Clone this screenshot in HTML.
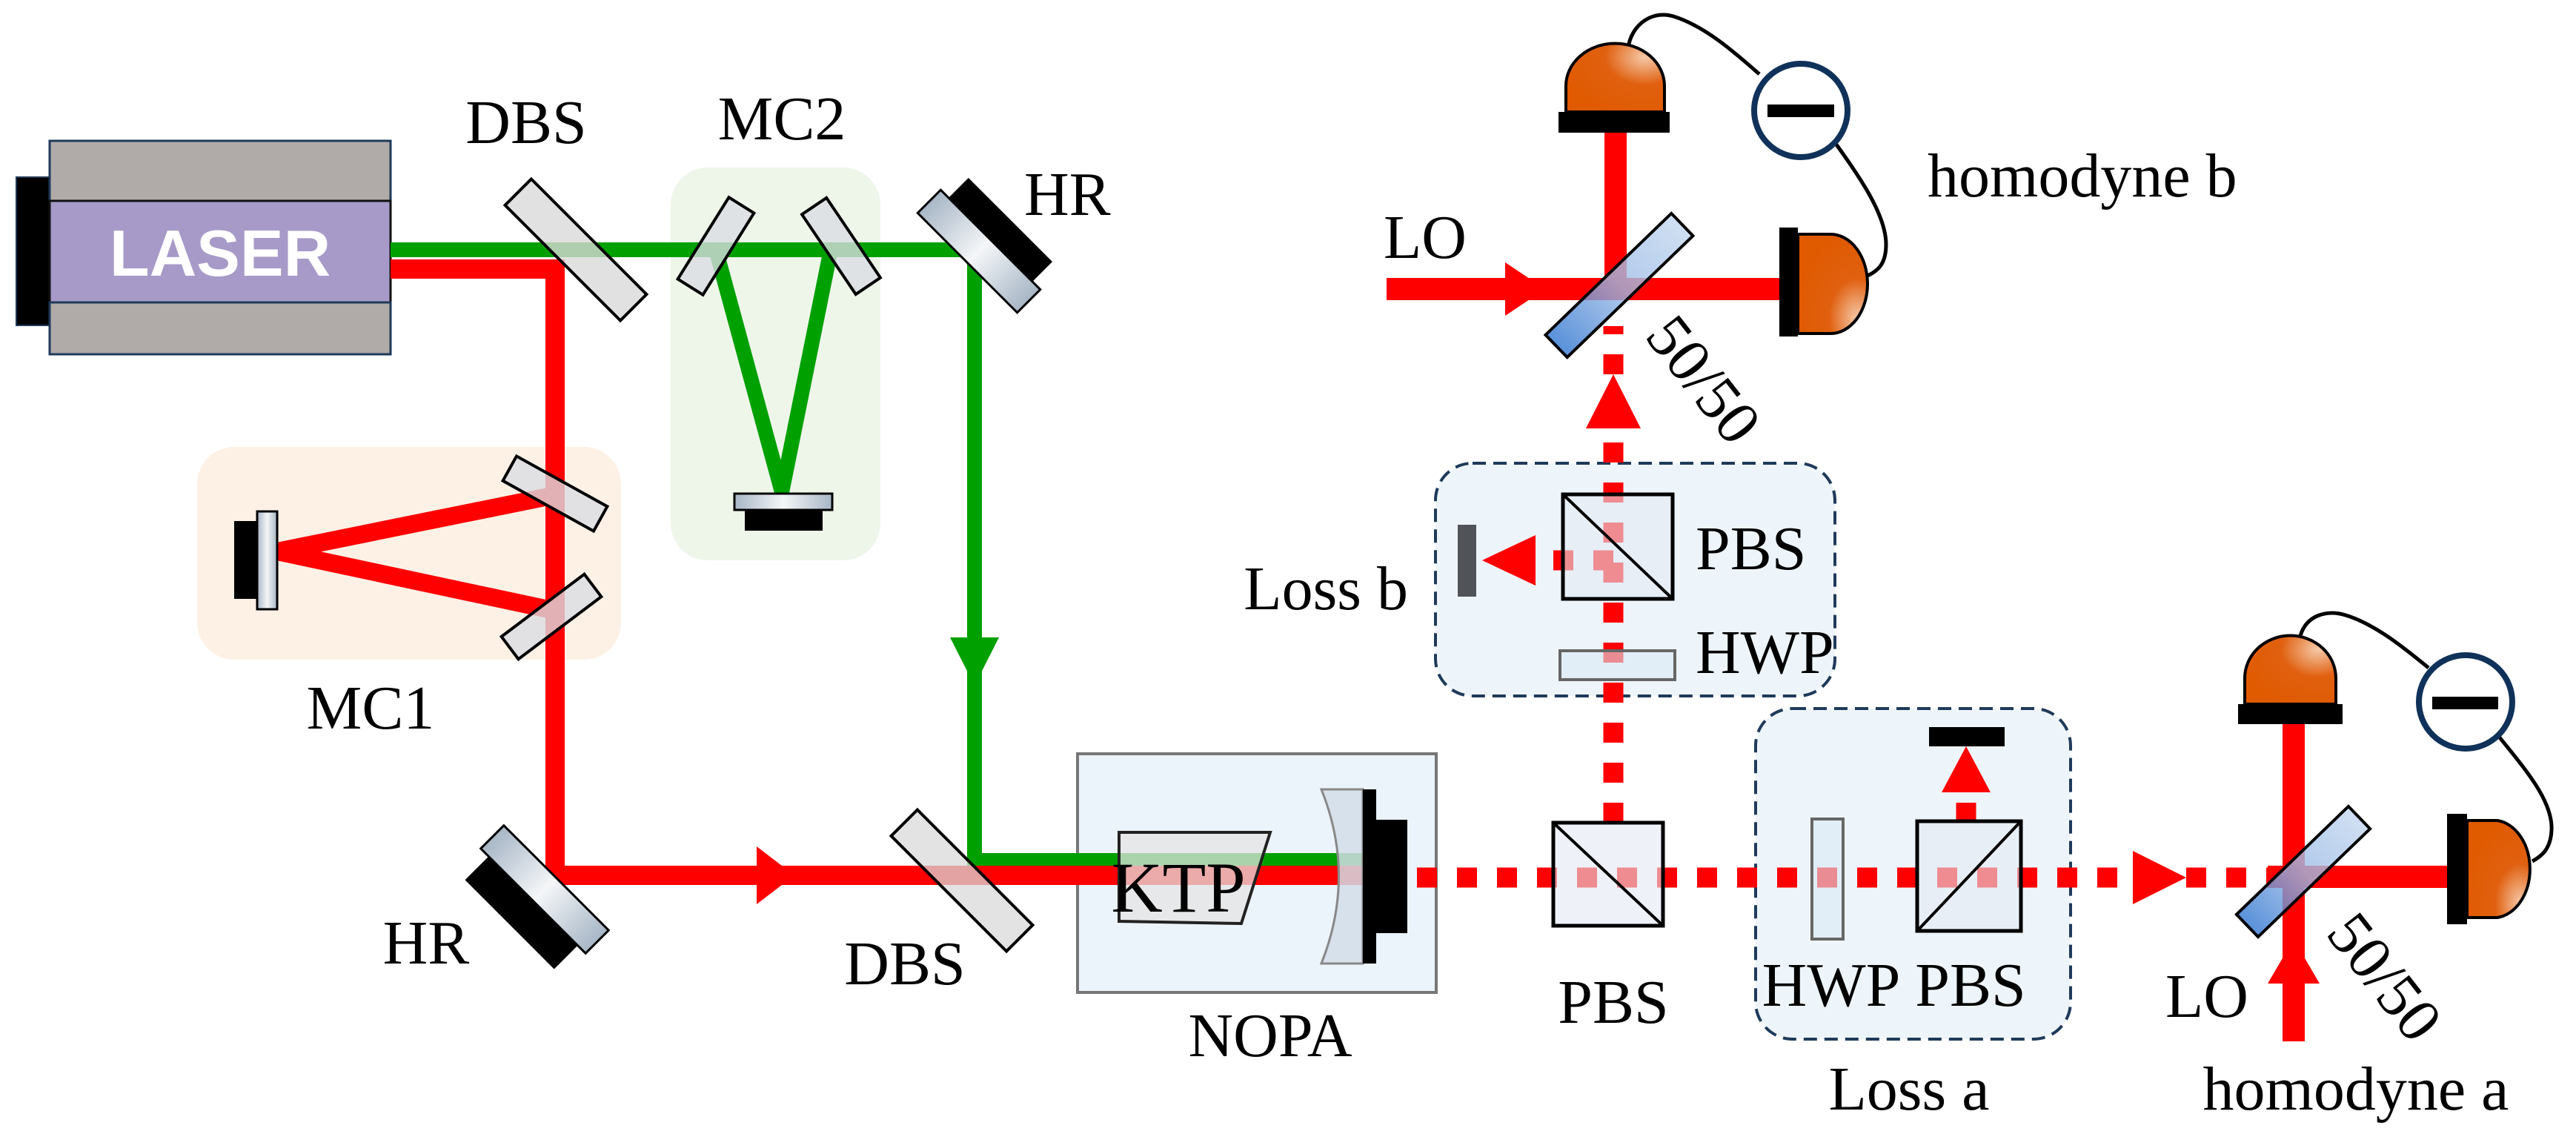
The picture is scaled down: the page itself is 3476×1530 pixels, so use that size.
<!DOCTYPE html>
<html><head><meta charset="utf-8"><style>
html,body{margin:0;padding:0;background:#fff}
svg{display:block}
text{font-family:"Liberation Serif",serif;fill:#000}
</style></head><body>
<svg width="3476" height="1530" viewBox="0 0 3476 1530" xmlns="http://www.w3.org/2000/svg">
<defs>
<linearGradient id="hr" x1="0" y1="0" x2="1" y2="0">
<stop offset="0" stop-color="#a7b6c6"/><stop offset="0.5" stop-color="#f4f6f8"/><stop offset="1" stop-color="#a7b6c6"/></linearGradient>
<linearGradient id="bs" x1="0" y1="0" x2="1" y2="0">
<stop offset="0" stop-color="#2f75d0"/><stop offset="0.5" stop-color="#9dbce6"/><stop offset="1" stop-color="#c4d7ef"/></linearGradient>
<radialGradient id="det" cx="0.8" cy="0.2" r="0.9">
<stop offset="0" stop-color="#f6c9a8"/><stop offset="0.45" stop-color="#e06010"/><stop offset="1" stop-color="#e05a00"/></radialGradient>
<radialGradient id="det2" cx="0.85" cy="0.85" r="0.9">
<stop offset="0" stop-color="#f6c9a8"/><stop offset="0.45" stop-color="#e06010"/><stop offset="1" stop-color="#e05a00"/></radialGradient>
</defs>

<rect x="905" y="226" width="283" height="530" rx="50" fill="#eef6ea"/>
<rect x="266" y="603" width="572" height="287" rx="50" fill="#fdf1e6"/>
<rect x="1454" y="1017" width="484" height="322" fill="#ebf3fb" stroke="#777" stroke-width="4"/>
<rect x="1937" y="625" width="539" height="314" rx="50" fill="#eef5fa" stroke="#1f3a5a" stroke-width="4" stroke-dasharray="18 10"/>
<rect x="2369" y="956" width="425" height="446" rx="50" fill="#eef5fa" stroke="#1f3a5a" stroke-width="4" stroke-dasharray="18 10"/>

<rect x="22" y="239" width="45" height="200" fill="#000" stroke="#1f3a5a" stroke-width="2"/>
<rect x="67" y="190" width="460" height="81" fill="#b0aaa8" stroke="#1f3a5a" stroke-width="3"/>
<rect x="67" y="271" width="460" height="137" fill="#a79ac8" stroke="#111" stroke-width="3"/>
<rect x="67" y="408" width="460" height="70" fill="#b0aaa8" stroke="#1f3a5a" stroke-width="3"/>
<text x="297" y="372" text-anchor="middle" font-size="88" font-weight="bold" style="font-family:'Liberation Sans',sans-serif;fill:#fff">LASER</text>

<polyline points="527,337 1315,337 1315,1161 1840,1161" fill="none" stroke="#00a000" stroke-width="20"/>
<polyline points="966,337 1055,664 1121,337" fill="none" stroke="#00a000" stroke-width="20"/>
<polygon points="1282,860 1348,860 1315,925" fill="#00a000"/>

<polyline points="527,363 749,363 749,1181 1840,1181" fill="none" stroke="#ff0000" stroke-width="26"/>
<polyline points="740,670 374,744 740,822" fill="none" stroke="#ff0000" stroke-width="24"/>
<polygon points="1021,1142 1072,1181 1021,1220" fill="#ff0000"/>

<line x1="1912" y1="1184" x2="2890" y2="1184" stroke="#ff0000" stroke-width="27" stroke-dasharray="27 27"/>
<polygon points="2878,1148 2950,1184 2878,1220" fill="#ff0000"/>
<line x1="2950" y1="1184" x2="3060" y2="1184" stroke="#ff0000" stroke-width="27" stroke-dasharray="27 27"/>
<line x1="2177" y1="1110" x2="2177" y2="570" stroke="#ff0000" stroke-width="27" stroke-dasharray="27 27"/>
<polygon points="2140,578 2177,505 2214,578" fill="#ff0000"/>
<line x1="2177" y1="505" x2="2177" y2="440" stroke="#ff0000" stroke-width="27" stroke-dasharray="27 27"/>
<line x1="2177" y1="756" x2="2072" y2="756" stroke="#ff0000" stroke-width="27" stroke-dasharray="27 27"/>
<polygon points="2072,722 2000,756 2072,790" fill="#ff0000"/>
<line x1="2653" y1="1110" x2="2653" y2="1069" stroke="#ff0000" stroke-width="27" stroke-dasharray="27 14"/>
<polygon points="2620,1069 2653,1007 2686,1069" fill="#ff0000"/>

<line x1="3060" y1="1183" x2="3320" y2="1183" stroke="#ff0000" stroke-width="30"/>
<line x1="3095" y1="1405" x2="3095" y2="970" stroke="#ff0000" stroke-width="30"/>
<polygon points="3060,1327 3095,1267 3130,1327" fill="#ff0000"/>
<line x1="1871" y1="390" x2="2410" y2="390" stroke="#ff0000" stroke-width="30"/>
<line x1="2180" y1="390" x2="2180" y2="170" stroke="#ff0000" stroke-width="30"/>
<polygon points="2031,354 2085,390 2031,426" fill="#ff0000"/>

<g transform="translate(777,337) rotate(45)"><rect x="-110" y="-25" width="220" height="50" fill="#d9d9d9" fill-opacity="0.8" stroke="#000" stroke-width="4"/></g>
<g transform="translate(966,332) rotate(-58)"><rect x="-65" y="-20" width="130" height="40" fill="#d9dde2" fill-opacity="0.8" stroke="#000" stroke-width="4"/></g>
<g transform="translate(1135,332) rotate(56)"><rect x="-65" y="-20" width="130" height="40" fill="#d9dde2" fill-opacity="0.8" stroke="#000" stroke-width="4"/></g>
<rect x="1005" y="688" width="105" height="28" fill="#000"/>
<rect x="991" y="666" width="132" height="22" fill="url(#hr)" stroke="#000" stroke-width="3"/>
<g transform="translate(1321,339) rotate(45)"><rect x="-80" y="-60" width="160" height="42" fill="#000"/><rect x="-95" y="-22" width="190" height="44" fill="url(#hr)" stroke="#000" stroke-width="3"/></g>
<g transform="translate(749,666) rotate(29)"><rect x="-70" y="-19" width="140" height="38" fill="#d9dde2" fill-opacity="0.8" stroke="#000" stroke-width="4"/></g>
<g transform="translate(744,832) rotate(-37)"><rect x="-70" y="-19" width="140" height="38" fill="#d9dde2" fill-opacity="0.8" stroke="#000" stroke-width="4"/></g>
<rect x="316" y="703" width="31" height="105" fill="#000"/>
<rect x="347" y="690" width="27" height="132" fill="url(#hr)" stroke="#000" stroke-width="3"/>
<g transform="translate(735,1200) rotate(45)"><rect x="-85" y="22" width="170" height="45" fill="#000"/><rect x="-100" y="-22" width="200" height="44" fill="url(#hr)" stroke="#000" stroke-width="3"/></g>
<g transform="translate(1298,1188) rotate(45)"><rect x="-110" y="-25" width="220" height="50" fill="#d9d9d9" fill-opacity="0.75" stroke="#000" stroke-width="4"/></g>

<polygon points="1510,1123 1714,1123 1675,1246 1510,1243" fill="#e4e4e4" fill-opacity="0.75" stroke="#222" stroke-width="4"/>
<text x="1590" y="1230" text-anchor="middle" font-size="96">KTP</text>
<path d="M1783,1065 L1839,1065 L1839,1300 L1783,1300 Q1830,1182 1783,1065 Z" fill="#d3dde7" fill-opacity="0.85" stroke="#888" stroke-width="3"/>
<rect x="1839" y="1065" width="18" height="235" fill="#000"/>
<rect x="1857" y="1106" width="42" height="153" fill="#000"/>

<rect x="2096" y="1110" width="148" height="139" fill="#e3e9f3" fill-opacity="0.6" stroke="#000" stroke-width="5"/>
<line x1="2096" y1="1110" x2="2244" y2="1249" stroke="#000" stroke-width="4"/>
<rect x="2109" y="667" width="148" height="141" fill="#e3e9f3" fill-opacity="0.6" stroke="#000" stroke-width="5"/>
<line x1="2109" y1="667" x2="2257" y2="808" stroke="#000" stroke-width="4"/>
<rect x="2105" y="878" width="155" height="39" fill="#dbe9f5" fill-opacity="0.6" stroke="#666" stroke-width="4"/>
<rect x="1967" y="708" width="25" height="97" fill="#505458"/>
<rect x="2445" y="1105" width="42" height="162" fill="#dbe9f5" fill-opacity="0.6" stroke="#666" stroke-width="4"/>
<rect x="2587" y="1108" width="140" height="148" fill="#e3e9f3" fill-opacity="0.6" stroke="#000" stroke-width="5"/>
<line x1="2587" y1="1256" x2="2727" y2="1108" stroke="#000" stroke-width="4"/>
<rect x="2603" y="981" width="102" height="26" fill="#000"/>

<g transform="translate(3108,1176) rotate(-44)"><rect x="-105" y="-21" width="210" height="42" fill="url(#bs)" fill-opacity="0.8" stroke="#000" stroke-width="4"/></g>
<g transform="translate(2185,385) rotate(-44)"><rect x="-118" y="-21" width="236" height="42" fill="url(#bs)" fill-opacity="0.8" stroke="#000" stroke-width="4"/></g>

<path d="M3029,950 L3029,915 A61,57 0 0 1 3152,915 L3152,950 Z" fill="url(#det)" stroke="#000" stroke-width="4"/>
<rect x="3020" y="950" width="141" height="27" fill="#000"/>
<path d="M3329,1107 L3370,1107 A50,66 0 0 1 3370,1238 L3329,1238 Z" fill="url(#det2)" stroke="#000" stroke-width="4"/>
<rect x="3302" y="1098" width="27" height="149" fill="#000"/>
<path d="M3104,858 C3112,830 3140,822 3165,830 C3205,842 3245,875 3277,901" fill="none" stroke="#000" stroke-width="5"/>
<path d="M3373,995 C3405,1035 3445,1080 3443,1120 C3442,1145 3430,1155 3417,1162" fill="none" stroke="#000" stroke-width="5"/>
<circle cx="3327" cy="947" r="63" fill="#fff" stroke="#10325a" stroke-width="8"/>
<rect x="3282" y="940" width="89" height="17" fill="#000"/>

<path d="M2113,151 L2113,116 A66,57 0 0 1 2246,116 L2246,151 Z" fill="url(#det)" stroke="#000" stroke-width="4"/>
<rect x="2103" y="151" width="150" height="28" fill="#000"/>
<path d="M2426,316 L2470,316 A50,67 0 0 1 2470,450 L2426,450 Z" fill="url(#det2)" stroke="#000" stroke-width="4"/>
<rect x="2401" y="307" width="25" height="147" fill="#000"/>
<path d="M2198,59 C2205,30 2232,14 2258,22 C2300,35 2340,70 2374,100" fill="none" stroke="#000" stroke-width="5"/>
<path d="M2478,195 C2510,240 2545,290 2545,330 C2545,355 2535,365 2520,372" fill="none" stroke="#000" stroke-width="5"/>
<circle cx="2430" cy="149" r="63" fill="#fff" stroke="#10325a" stroke-width="8"/>
<rect x="2385" y="141" width="90" height="17" fill="#000"/>

<g font-size="84">
<text x="710" y="193" text-anchor="middle">DBS</text>
<text x="1055" y="188" text-anchor="middle">MC2</text>
<text x="1382" y="290">HR</text>
<text x="500" y="983" text-anchor="middle">MC1</text>
<text x="575" y="1300" text-anchor="middle">HR</text>
<text x="1221" y="1328" text-anchor="middle">DBS</text>
<text x="1714" y="1425" text-anchor="middle">NOPA</text>
<text x="2177" y="1380" text-anchor="middle">PBS</text>
<text x="2471" y="1357" text-anchor="middle">HWP</text>
<text x="2659" y="1357" text-anchor="middle">PBS</text>
<text x="2576" y="1497" text-anchor="middle">Loss a</text>
<text x="3179" y="1497" text-anchor="middle">homodyne a</text>
<text x="2978" y="1372" text-anchor="middle">LO</text>
<text x="1923" y="348" text-anchor="middle">LO</text>
<text x="2601" y="265">homodyne b</text>
<text x="2288" y="768">PBS</text>
<text x="2288" y="908">HWP</text>
<text x="1900" y="822" text-anchor="end">Loss b</text>
<text transform="translate(2299,512) rotate(52)" text-anchor="middle" y="28">50/50</text>
<text transform="translate(3218,1318) rotate(52)" text-anchor="middle" y="28">50/50</text>
</g>
</svg>
</body></html>
